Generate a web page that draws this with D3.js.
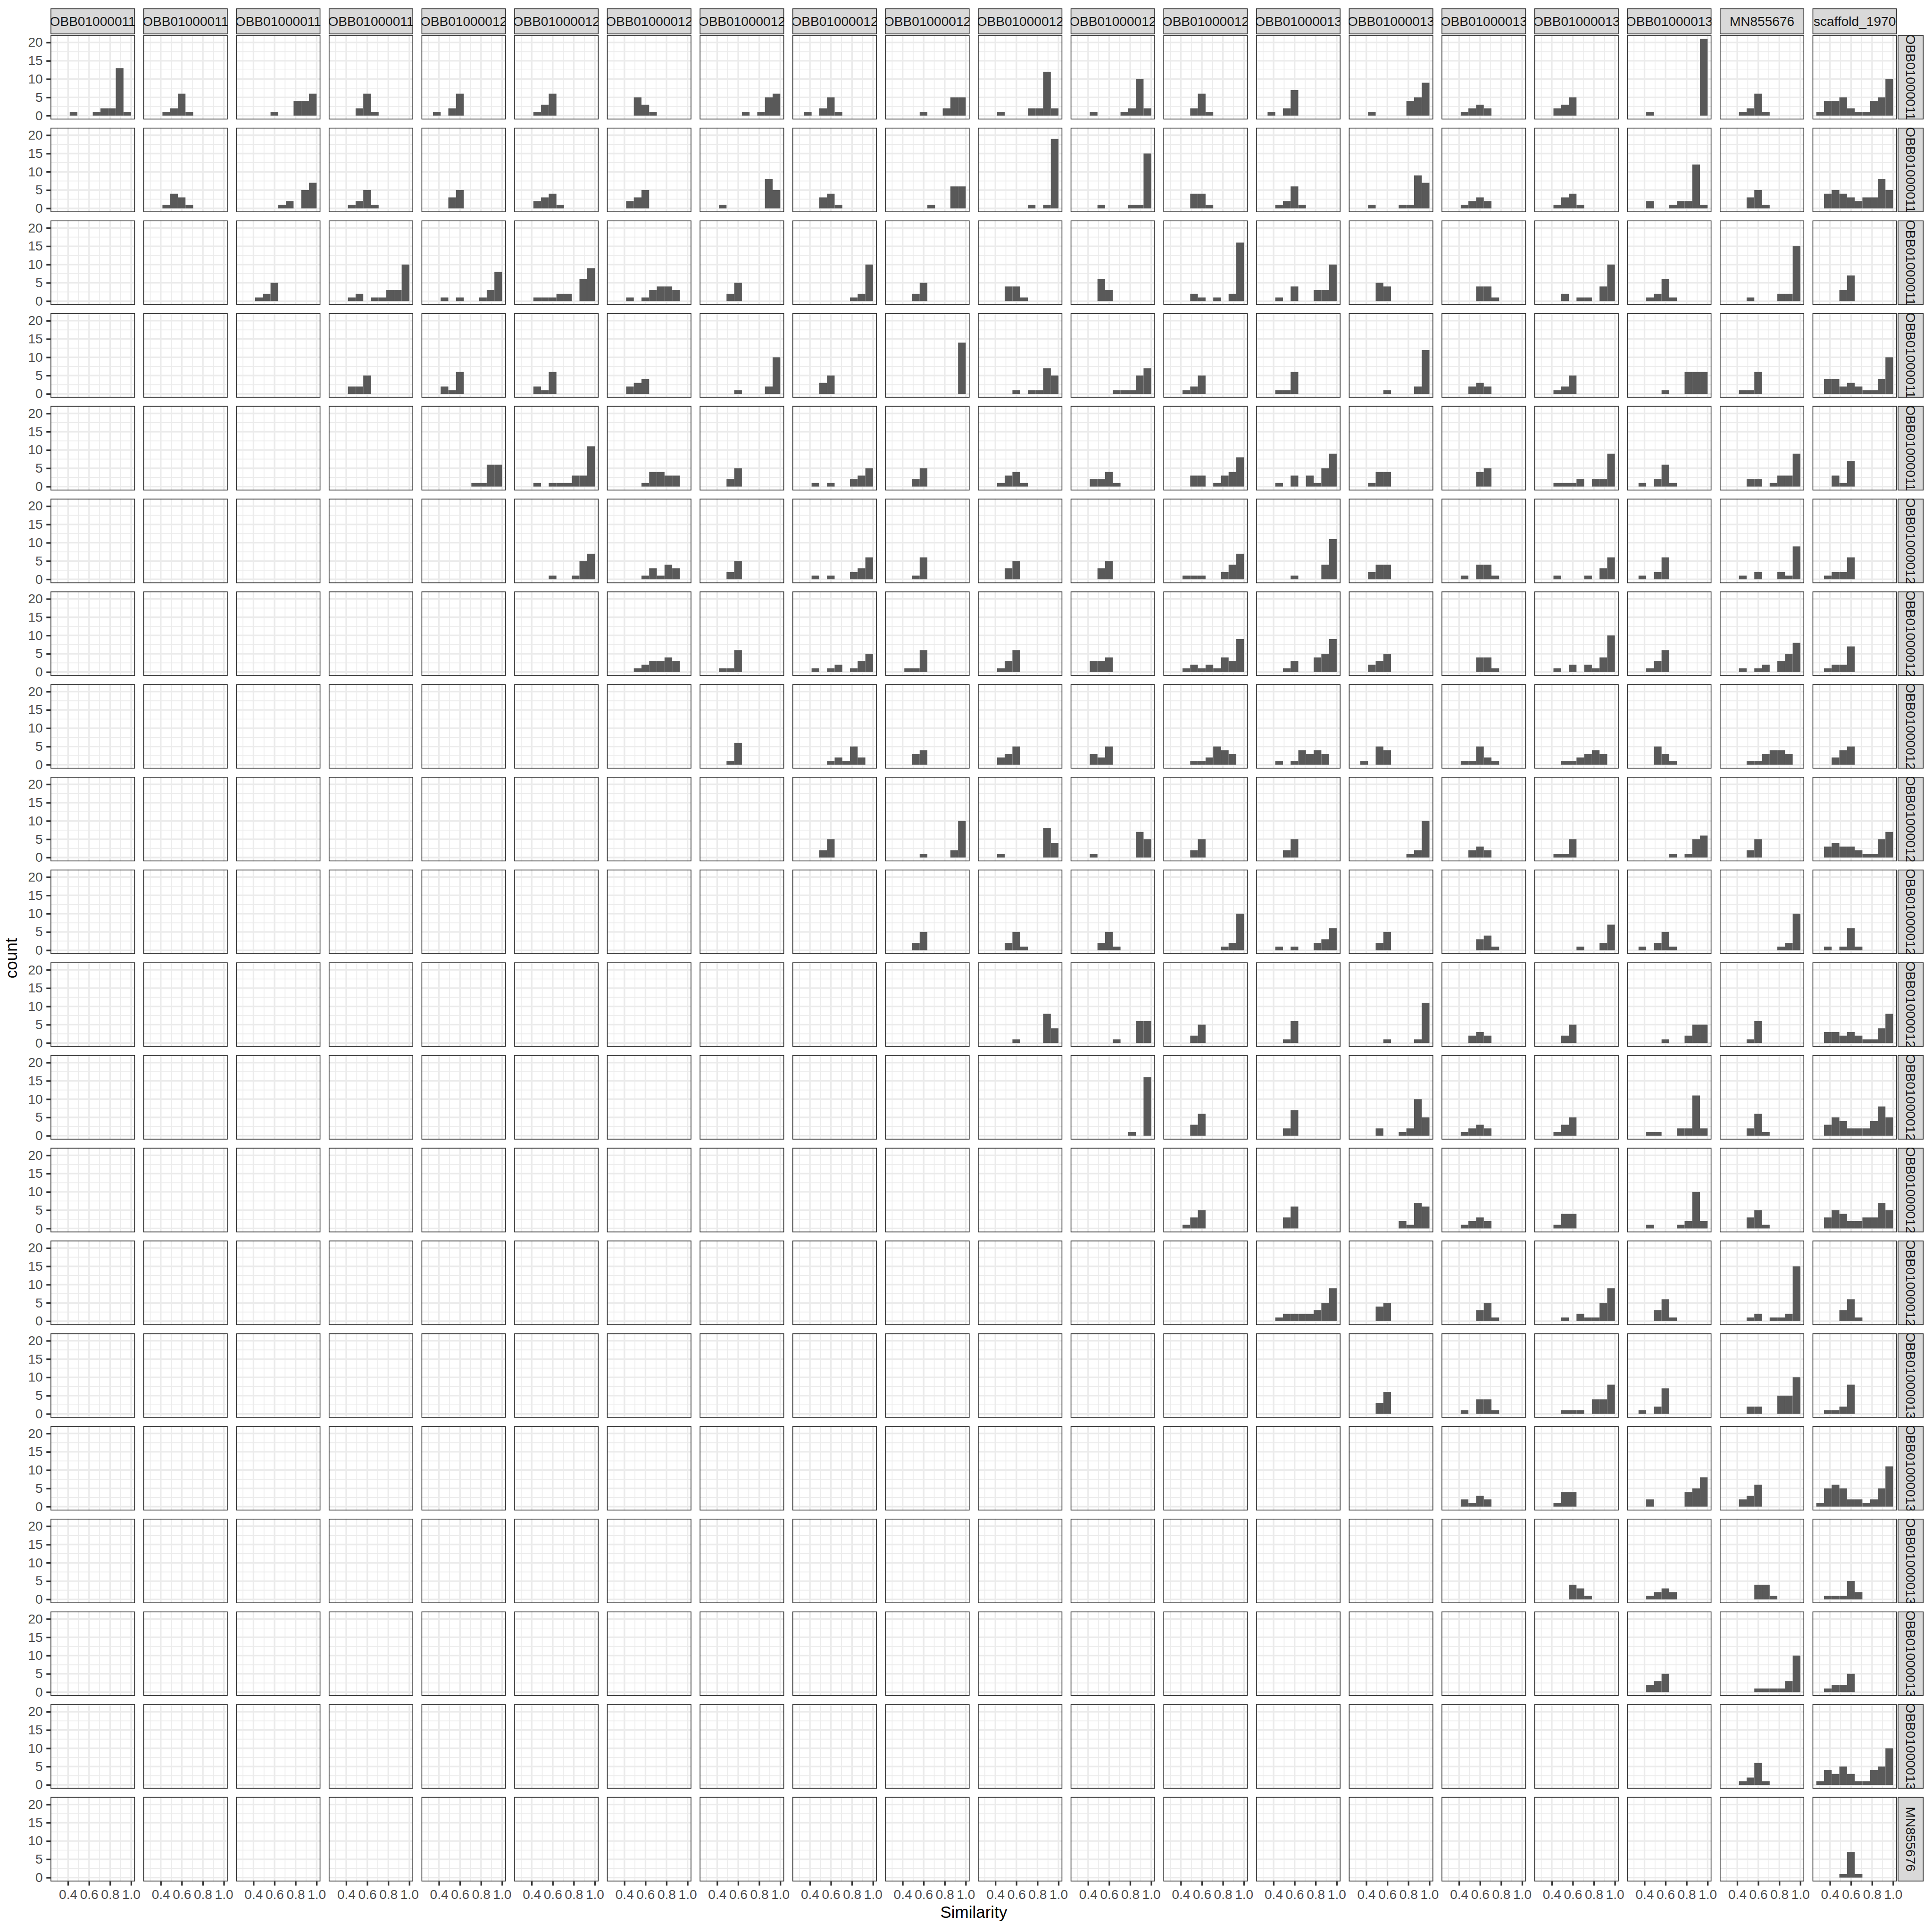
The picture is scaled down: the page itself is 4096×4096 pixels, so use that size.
<!DOCTYPE html>
<html><head><meta charset="utf-8">
<script src="https://cdn.jsdelivr.net/npm/d3@7"></script>
<style>body{margin:0;background:#fff}svg{display:block}</style>
</head><body>
<svg id="chart" width="4096" height="4096"></svg>
<script>
// ---------------- data ----------------
// facet labels as they are visible in the (clipped) strips
const rowNames = ["OBB01000011","OBB01000011","OBB01000011","OBB01000011","OBB01000011",
  "OBB01000012","OBB01000012","OBB01000012","OBB01000012","OBB01000012",
  "OBB01000012","OBB01000012","OBB01000012","OBB01000012","OBB01000013",
  "OBB01000013","OBB01000013","OBB01000013","OBB01000013","MN855676"];
const colNames = ["OBB01000011","OBB01000011","OBB01000011","OBB01000011","OBB01000012",
  "OBB01000012","OBB01000012","OBB01000012","OBB01000012","OBB01000012",
  "OBB01000012","OBB01000012","OBB01000012","OBB01000013","OBB01000013",
  "OBB01000013","OBB01000013","OBB01000013","MN855676","scaffold_1970"];
const binEdges = [0.27,0.343,0.416,0.489,0.562,0.635,0.708,0.781,0.854,0.927,1.0];
const xTicks = [0.4,0.6,0.8,1.0];
const xTickLabels = ["0.4","0.6","0.8","1.0"];
const xMinor = [0.3,0.5,0.7,0.9];
const yTicks = [0,5,10,15,20];
const yMinor = [2.5,7.5,12.5,17.5];

// counts per bin; each row lists its panels from the diagonal column to column 20
const row01 = [[0,0,1,0,0,1,2,2,13,1],[0,0,1,2,6,1,0,0,0,0],[0,0,0,0,1,0,0,4,4,6],[0,0,0,2,6,1,0,0,0,0],[0,1,0,2,6,0,0,0,0,0],
  [0,0,1,3,6,0,0,0,0,0],[0,0,0,5,3,1,0,0,0,0],[0,0,0,0,0,1,0,1,5,6],[0,1,0,2,5,1,0,0,0,0],[0,0,0,0,1,0,0,2,5,5],
  [0,0,1,0,0,0,2,2,12,2],[0,0,1,0,0,0,1,2,10,2],[0,0,0,2,6,1,0,0,0,0],[0,1,0,2,7,0,0,0,0,0],[0,0,1,0,0,0,0,4,5,9],
  [0,0,1,2,3,2,0,0,0,0],[0,0,2,3,5,0,0,0,0,0],[0,0,1,0,0,0,0,0,0,21],[0,0,1,2,6,1,0,0,0,0],[1,4,4,5,2,1,1,4,5,10]];
const row02 = [[0,0,1,4,3,1,0,0,0,0],[0,0,0,0,0,1,2,0,5,7],[0,0,1,2,5,1,0,0,0,0],[0,0,0,3,5,0,0,0,0,0],
  [0,0,2,3,4,1,0,0,0,0],[0,0,2,3,5,0,0,0,0,0],[0,0,1,0,0,0,0,0,8,5],[0,0,0,3,4,1,0,0,0,0],[0,0,0,0,0,1,0,0,6,6],
  [0,0,0,0,0,0,1,0,1,19],[0,0,0,1,0,0,0,1,1,15],[0,0,0,4,4,1,0,0,0,0],[0,0,1,2,6,1,0,0,0,0],[0,0,1,0,0,0,1,1,9,7],
  [0,0,1,2,3,2,0,0,0,0],[0,0,1,3,4,1,0,0,0,0],[0,0,2,0,0,1,2,2,12,1],[0,0,0,3,5,1,0,0,0,0],[0,4,5,4,3,2,3,3,8,5]];
const row03 = [[0,0,1,2,5,0,0,0,0,0],[0,0,1,2,0,1,1,3,3,10],[0,0,1,0,1,0,0,1,3,8],
  [0,0,1,1,1,2,2,0,6,9],[0,0,1,0,1,3,4,4,3,0],[0,0,0,2,5,0,0,0,0,0],[0,0,0,0,0,0,0,1,2,10],[0,0,0,2,5,0,0,0,0,0],
  [0,0,0,4,4,1,0,0,0,0],[0,0,0,6,3,0,0,0,0,0],[0,0,0,2,1,0,1,0,2,16],[0,0,1,0,4,0,0,3,3,10],[0,0,0,5,4,0,0,0,0,0],
  [0,0,0,0,4,4,1,0,0,0],[0,0,0,2,0,1,1,0,4,10],[0,0,1,2,6,1,0,0,0,0],[0,0,0,1,0,0,0,2,2,15],[0,0,0,3,7,0,0,0,0,0]];
const row04 = [[0,0,2,2,5,0,0,0,0,0],[0,0,2,1,6,0,0,0,0,0],
  [0,0,2,1,6,0,0,0,0,0],[0,0,2,3,4,0,0,0,0,0],[0,0,0,0,1,0,0,0,2,10],[0,0,0,3,5,0,0,0,0,0],[0,0,0,0,0,0,0,0,0,14],
  [0,0,0,0,1,0,1,1,7,5],[0,0,0,0,0,1,1,1,5,7],[0,0,1,2,5,0,0,0,0,0],[0,0,1,1,6,0,0,0,0,0],[0,0,0,0,1,0,0,0,2,12],
  [0,0,0,2,3,2,0,0,0,0],[0,0,1,2,5,0,0,0,0,0],[0,0,0,0,1,0,0,6,6,6],[0,0,1,1,6,0,0,0,0,0],[0,4,4,2,3,2,1,1,4,10]];
const row05 = [[0,0,0,0,0,0,1,1,6,6],
  [0,0,1,0,1,1,1,3,3,11],[0,0,0,0,1,4,4,3,3,0],[0,0,0,2,5,0,0,0,0,0],[0,0,1,0,1,0,0,2,3,5],[0,0,0,2,5,0,0,0,0,0],
  [0,0,1,3,4,1,0,0,0,0],[0,0,2,2,4,1,0,0,0,0],[0,0,0,3,3,0,1,3,4,8],[0,0,1,0,3,0,3,1,5,9],[0,0,1,4,4,0,0,0,0,0],
  [0,0,0,0,4,5,0,0,0,0],[0,0,1,1,1,2,0,2,2,9],[0,1,0,2,6,1,0,0,0,0],[0,0,0,2,2,0,1,3,3,9],[0,0,3,1,7,0,0,0,0,0]];
const row06 = [[0,0,0,0,1,0,0,1,5,7],[0,0,0,0,1,3,1,4,3,0],[0,0,0,2,5,0,0,0,0,0],[0,0,1,0,1,0,0,2,3,6],[0,0,0,1,6,0,0,0,0,0],
  [0,0,0,3,5,0,0,0,0,0],[0,0,0,3,5,0,0,0,0,0],[0,0,1,1,1,0,0,2,4,7],[0,0,0,0,1,0,0,0,4,11],[0,0,2,4,4,0,0,0,0,0],
  [0,0,1,0,4,4,1,0,0,0],[0,0,1,0,0,0,1,0,3,6],[0,1,0,2,6,0,0,0,0,0],[0,0,1,0,2,0,0,2,1,9],[0,1,2,2,6,0,0,0,0,0]];
const row07 = [[0,0,0,1,2,3,3,4,3,0],[0,0,1,1,6,0,0,0,0,0],[0,0,1,0,1,2,0,1,3,5],[0,0,1,1,6,0,0,0,0,0],
  [0,0,1,3,6,0,0,0,0,0],[0,0,3,3,4,0,0,0,0,0],[0,0,1,2,1,2,1,4,3,9],[0,0,0,1,3,0,0,4,5,9],[0,0,2,3,5,0,0,0,0,0],
  [0,0,0,0,4,4,1,0,0,0],[0,0,1,0,2,0,2,1,4,10],[0,0,1,3,6,0,0,0,0,0],[0,0,1,0,1,2,0,3,5,8],[0,1,2,2,7,0,0,0,0,0]];
const row08 = [[0,0,0,1,6,0,0,0,0,0],[0,0,0,0,1,2,1,5,2,0],[0,0,0,3,4,0,0,0,0,0],
  [0,0,2,3,5,0,0,0,0,0],[0,0,3,2,5,0,0,0,0,0],[0,0,0,1,1,2,5,4,3,0],[0,0,1,0,1,4,3,4,3,0],[0,1,0,5,4,0,0,0,0,0],
  [0,0,1,1,5,2,1,0,0,0],[0,0,0,1,1,2,3,4,3,0],[0,0,0,5,3,1,0,0,0,0],[0,0,0,1,1,3,4,4,3,0],[0,0,2,4,5,0,0,0,0,0]];
const row09 = [[0,0,0,2,5,0,0,0,0,0],[0,0,0,0,1,0,0,0,2,10],
  [0,0,1,0,0,0,0,0,8,4],[0,0,1,0,0,0,0,0,7,5],[0,0,0,2,5,0,0,0,0,0],[0,0,0,2,5,0,0,0,0,0],[0,0,0,0,0,0,0,1,2,10],
  [0,0,0,2,3,2,0,0,0,0],[0,0,1,1,5,0,0,0,0,0],[0,0,0,0,0,1,0,1,5,6],[0,0,0,2,5,0,0,0,0,0],[0,3,4,3,3,2,1,1,5,7]];
const row10 = [[0,0,0,2,5,0,0,0,0,0],
  [0,0,0,2,5,1,0,0,0,0],[0,0,0,2,5,1,0,0,0,0],[0,0,0,0,0,0,0,1,2,10],[0,0,1,0,1,0,0,2,3,6],[0,0,0,2,5,0,0,0,0,0],
  [0,0,0,0,3,4,1,0,0,0],[0,0,0,0,0,1,0,0,2,7],[0,1,0,2,5,1,0,0,0,0],[0,0,0,0,0,0,0,1,2,10],[0,1,0,1,6,1,0,0,0,0]];
const row11 = [[0,0,0,0,1,0,0,0,8,4],[0,0,0,0,0,1,0,0,6,6],[0,0,0,2,5,0,0,0,0,0],[0,0,0,1,6,0,0,0,0,0],[0,0,0,0,1,0,0,0,1,11],
  [0,0,0,2,3,2,0,0,0,0],[0,0,0,2,5,0,0,0,0,0],[0,0,0,0,1,0,0,2,5,5],[0,0,0,1,6,0,0,0,0,0],[0,3,3,2,3,2,1,1,4,8]];
const row12 = [[0,0,0,0,0,0,0,1,0,16],[0,0,0,3,6,0,0,0,0,0],[0,0,0,2,7,0,0,0,0,0],[0,0,0,2,0,0,1,2,10,5],
  [0,0,1,2,3,2,0,0,0,0],[0,0,1,3,5,0,0,0,0,0],[0,0,1,1,0,0,2,2,11,2],[0,0,0,2,6,1,0,0,0,0],[0,3,5,4,2,2,2,4,8,5]];
const row13 = [[0,0,1,3,5,0,0,0,0,0],[0,0,0,3,6,0,0,0,0,0],[0,0,0,0,0,0,2,1,7,6],
  [0,0,1,2,3,2,0,0,0,0],[0,0,1,4,4,0,0,0,0,0],[0,0,1,0,0,0,1,2,10,2],[0,0,0,3,5,1,0,0,0,0],[0,3,5,4,2,2,3,3,7,5]];
const row14 = [[0,0,1,2,2,2,2,3,5,9],[0,0,0,4,5,0,0,0,0,0],
  [0,0,0,0,3,5,1,0,0,0],[0,0,0,1,0,2,1,1,5,9],[0,0,0,3,6,1,0,0,0,0],[0,0,0,1,2,0,1,1,2,15],[0,0,0,3,6,1,0,0,0,0]];
const row15 = [[0,0,0,3,6,0,0,0,0,0],
  [0,0,1,0,4,4,1,0,0,0],[0,0,0,1,1,1,0,4,4,8],[0,1,0,2,7,0,0,0,0,0],[0,0,0,2,2,0,0,5,5,10],[0,1,1,2,8,0,0,0,0,0]];
const row16 = [[0,0,2,1,3,2,0,0,0,0],[0,0,1,4,4,0,0,0,0,0],[0,0,2,0,0,0,0,4,5,8],[0,0,2,3,6,0,0,0,0,0],[1,5,6,5,2,2,1,2,5,11]];
const row17 = [[0,0,0,0,4,3,1,0,0,0],[0,0,1,2,3,2,0,0,0,0],[0,0,0,0,4,4,1,0,0,0],[0,1,1,1,5,2,0,0,0,0]];
const row18 = [[0,0,2,3,5,0,0,0,0,0],[0,0,0,0,1,1,1,1,3,10],[0,1,2,2,5,0,0,0,0,0]];
const row19 = [[0,0,1,2,6,1,0,0,0,0],[1,4,3,5,3,1,1,4,5,10]];
const row20 = [[0,0,0,1,7,1,0,0,0,0]];
const countsByRow = [row01,row02,row03,row04,row05,row06,row07,row08,row09,row10,
  row11,row12,row13,row14,row15,row16,row17,row18,row19,row20];

// ---------------- layout (reference pixels, then scaled) ----------------
const SCALE = 0.765;
const FONT = "'Liberation Sans', Arial, Helvetica, sans-serif";
const L = 140, T = 97, W = 234.1, H = 234.1, GAP = 22.9, STRIP = 72;
const P = W + GAP;
const nCols = colNames.length, nRows = rowNames.length;

const svg = d3.select("#chart");
svg.append("rect").attr("width",4096).attr("height",4096).attr("fill","#fff");
const root = svg.append("g").attr("transform",`scale(${SCALE})`);
const defs = svg.append("defs");

const x = d3.scaleLinear().domain([0.2335, 1.0365]).range([0, W]);
const y = d3.scaleLinear().domain([-1.05, 22.05]).range([H, 0]);

const GRID = "#EBEBEB", DARK = "#333333", BAR = "#595959";

for (let r = 0; r < nRows; r++) {
  for (let c = 0; c < nCols; c++) {
    const g = root.append("g").attr("transform", `translate(${L + c*P},${T + r*P})`);
    g.append("rect").attr("width", W).attr("height", H).attr("fill", "#fff");
    g.selectAll(".vmin").data(xMinor).enter().append("line")
      .attr("x1", d => x(d)).attr("x2", d => x(d)).attr("y1", 0).attr("y2", H)
      .attr("stroke", GRID).attr("stroke-width", 2.2);
    g.selectAll(".hmin").data(yMinor).enter().append("line")
      .attr("y1", d => y(d)).attr("y2", d => y(d)).attr("x1", 0).attr("x2", W)
      .attr("stroke", GRID).attr("stroke-width", 2.2);
    g.selectAll(".vmaj").data(xTicks).enter().append("line")
      .attr("x1", d => x(d)).attr("x2", d => x(d)).attr("y1", 0).attr("y2", H)
      .attr("stroke", GRID).attr("stroke-width", 4.4);
    g.selectAll(".hmaj").data(yTicks).enter().append("line")
      .attr("y1", d => y(d)).attr("y2", d => y(d)).attr("x1", 0).attr("x2", W)
      .attr("stroke", GRID).attr("stroke-width", 4.4);
    if (c >= r) {
      const counts = countsByRow[r][c - r];
      const bins = counts.map((v, k) => ({v, x0: binEdges[k], x1: binEdges[k+1]})).filter(d => d.v > 0);
      g.selectAll(".bar").data(bins).enter().append("rect")
        .attr("x", d => x(d.x0)).attr("width", d => x(d.x1) - x(d.x0))
        .attr("y", d => y(d.v)).attr("height", d => y(0) - y(d.v))
        .attr("fill", BAR);
    }
    g.append("rect").attr("x", 1.1).attr("y", 1.1).attr("width", W - 2.2).attr("height", H - 2.2)
      .attr("fill", "none").attr("stroke", DARK).attr("stroke-width", 2.2);

    if (c === 0) {
      const ax = g.append("g").call(d3.axisLeft(y).tickValues(yTicks).tickSize(11.5).tickPadding(10));
      ax.select(".domain").remove();
      ax.selectAll("line").attr("stroke", DARK).attr("stroke-width", 4.4);
      ax.selectAll("text").attr("fill", "#4D4D4D").style("font-size", "36.7px").style("font-family", FONT);
    }
    if (r === nRows - 1) {
      const ax = g.append("g").attr("transform", `translate(0,${H})`)
        .call(d3.axisBottom(x).tickValues(xTicks).tickFormat((d,i) => xTickLabels[i]).tickSize(11.5).tickPadding(11.5));
      ax.select(".domain").remove();
      ax.selectAll("line").attr("stroke", DARK).attr("stroke-width", 4.4);
      ax.selectAll("text").attr("fill", "#4D4D4D").style("font-size", "36.7px").style("font-family", FONT);
    }
  }
}

// top strips
colNames.forEach((name, c) => {
  const x0 = L + c*P, y0 = T - 2 - STRIP;
  const id = "cs" + c;
  defs.append("clipPath").attr("id", id).append("rect")
    .attr("x", x0*SCALE).attr("y", y0*SCALE).attr("width", W*SCALE).attr("height", STRIP*SCALE);
  root.append("rect").attr("x", x0 + 1.1).attr("y", y0 + 1.1).attr("width", W - 2.2).attr("height", STRIP - 2.2)
    .attr("fill", "#D9D9D9").attr("stroke", DARK).attr("stroke-width", 2.2);
  svg.append("g").attr("clip-path", `url(#${id})`).append("text")
    .attr("x", (x0 + W/2)*SCALE).attr("y", (y0 + STRIP/2)*SCALE)
    .attr("text-anchor", "middle").attr("dominant-baseline", "central")
    .attr("fill", "#1A1A1A").style("font-size", (36.7*SCALE) + "px").style("font-family", FONT)
    .text(name);
});

// right strips
rowNames.forEach((name, r) => {
  const x0 = L + nCols*P - GAP + 2, y0 = T + r*P;
  const id = "rs" + r;
  defs.append("clipPath").attr("id", id).append("rect")
    .attr("x", x0*SCALE).attr("y", y0*SCALE).attr("width", STRIP*SCALE).attr("height", H*SCALE);
  root.append("rect").attr("x", x0 + 1.1).attr("y", y0 + 1.1).attr("width", STRIP - 2.2).attr("height", H - 2.2)
    .attr("fill", "#D9D9D9").attr("stroke", DARK).attr("stroke-width", 2.2);
  const cx = (x0 + STRIP/2)*SCALE, cy = (y0 + H/2)*SCALE;
  svg.append("g").attr("clip-path", `url(#${id})`).append("text")
    .attr("transform", `translate(${cx},${cy}) rotate(90)`)
    .attr("text-anchor", "middle").attr("dominant-baseline", "central")
    .attr("fill", "#1A1A1A").style("font-size", (36.7*SCALE) + "px").style("font-family", FONT)
    .text(name);
});

// axis titles
const panelsRight = L + nCols*P - GAP, panelsBottom = T + nRows*P - GAP;
root.append("text").attr("x", (L + panelsRight)/2).attr("y", 5315)
  .attr("text-anchor", "middle").attr("fill", "#000")
  .style("font-size", "45.8px").style("font-family", FONT).text("Similarity");
root.append("text").attr("transform", `translate(47,${(T + panelsBottom)/2}) rotate(-90)`)
  .attr("text-anchor", "middle").attr("fill", "#000")
  .style("font-size", "45.8px").style("font-family", FONT).text("count");
</script>
</body></html>
